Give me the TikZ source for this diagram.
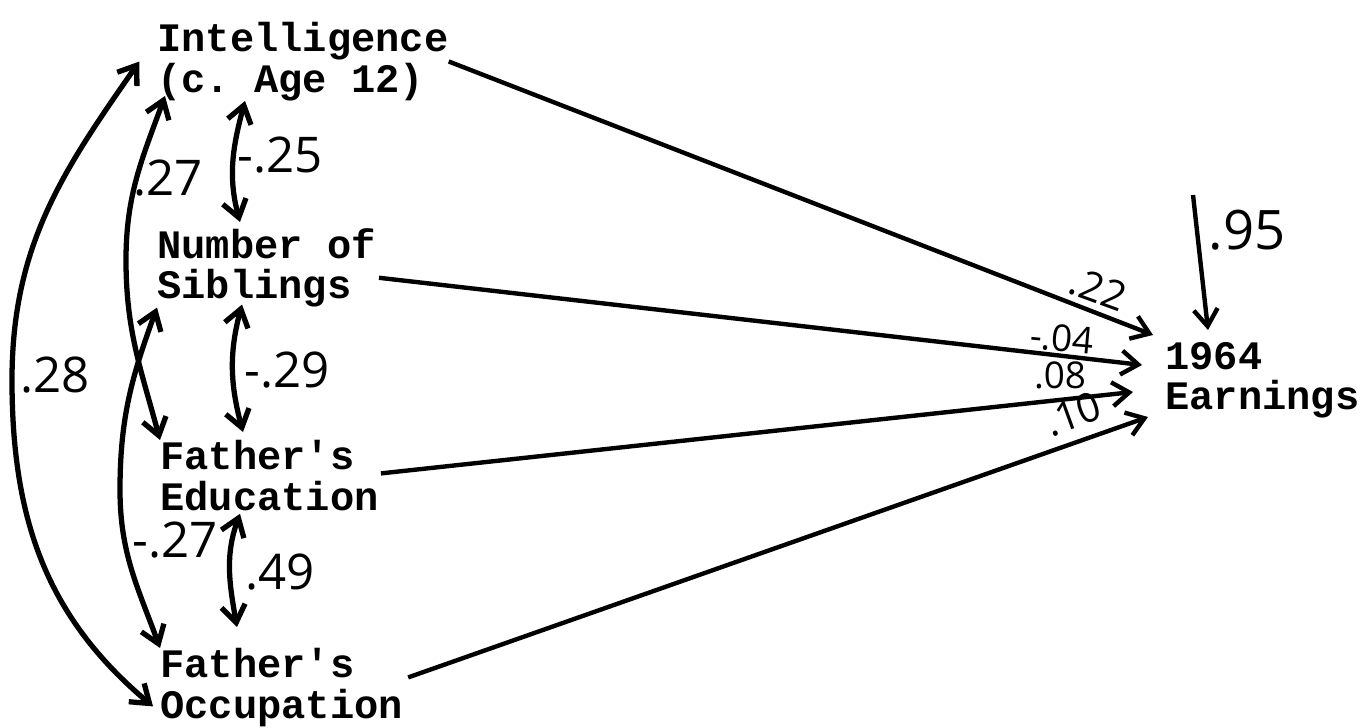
\documentclass[tikz,border=0pt]{standalone}
\usepackage{fontspec}
\setmonofont{Liberation Mono}
\newfontfamily\handfont{Open Sans}
\usetikzlibrary{arrows.meta}

\begin{document}
\begin{tikzpicture}[x=0.02cm, y=0.02cm,
        var/.style={anchor=north west, inner sep=0pt, align=left, font=\ttfamily\bfseries\fontsize{23}{23}\selectfont},
        corr/.style={<->, line width=3pt},
        effect/.style={->, line width=2.5pt},
        coef/.style={font=\handfont\fontsize{28}{28}\selectfont},
        coefsmall/.style={inner sep=0pt, font=\handfont\fontsize{21}{21}\selectfont},
        >={Straight Barb[length=3.4mm,width=4.8mm]}]
        \useasboundingbox (0,0) rectangle (1365,727);

        % Zmienne
        \node[var] (int) at (157,705) {Intelligence\\(c. Age 12)};
        \node[var] (sib) at (157,499) {Number of\\Siblings};
        \node[var] (edu) at (160,287) {Father's\\Education};
        \node[var] (occ) at (160,79) {Father's\\Occupation};
        \node[var] (earn) at (1165,385) {1964\\Earnings};
        \coordinate (res) at (1193,532);

        % Korelacje
        \draw[corr] ([xshift=-10]int.west) to[out=235,in=90] (12,347) to[out=270,in=140] ([shift={(-7,-19)}]occ.west);
        \draw[corr] ([shift={(8,5)}]int.south west) to[out=250,in=90] (126,467) to[out=270,in=105] (edu.north west);
        \draw[corr] (sib.south west) to[out=250,in=90] (120,237) to[out=270,in=110] (occ.north west);
        \draw[corr] ([shift={(88,0)}]int.south west) to[out=255,in=105] ([shift={(83,6)}]sib.north west);
        \draw[corr] ([shift={(85,3)}]sib.south west) to[out=255,in=105] ([shift={(83,8)}]edu.north west);
        \draw[corr] ([shift={(80,-3)}]edu.south west) to[out=250,in=100] ([shift={(77,21)}]occ.north west);

        \node[coef] (c1) at (55,352) {.28};
        \node[coef] (c2) at (168,549) {.27};
        \node[coef] (c3) at (280,572) {-.25};
        \node[coef] (c4) at (287,357) {-.29};
        \node[coef] (c5) at (175,187) {-.27};
        \node[coef] (c6) at (280,155) {.49};

        % Sciezki
        \draw[effect] (int.east) -- ([shift={(-12,7)}]earn.north west);
        \draw[effect] ([shift={(3,-10)}]sib.east) -- ([shift={(-23,-23)}]earn.north west);
        \draw[effect] ([shift={(2,2)}]edu.east) -- ([shift={(-32,-50)}]earn.north west);
        \draw[effect] ([shift={(5,10)}]occ.east) -- ([shift={(-17,-75)}]earn.north west);
        \draw[effect] (res) -- ([shift={(43,12)}]earn.north west);

        \node[coefsmall, font=\handfont\fontsize{23}{23}\selectfont, rotate=-20] (p1) at (1098,438) {.22};
        \node[coefsmall, rotate=-5] (p2) at (1062,389) {-.04};
        \node[coefsmall] (p3) at (1060,352) {.08};
        \node[coefsmall, font=\handfont\fontsize{23}{23}\selectfont, rotate=20] (p4) at (1073,313) {.10};
        \node[coef, font=\handfont\fontsize{31}{31}\selectfont] (p5) at (1247,497) {.95};
    \end{tikzpicture}
\end{document}
